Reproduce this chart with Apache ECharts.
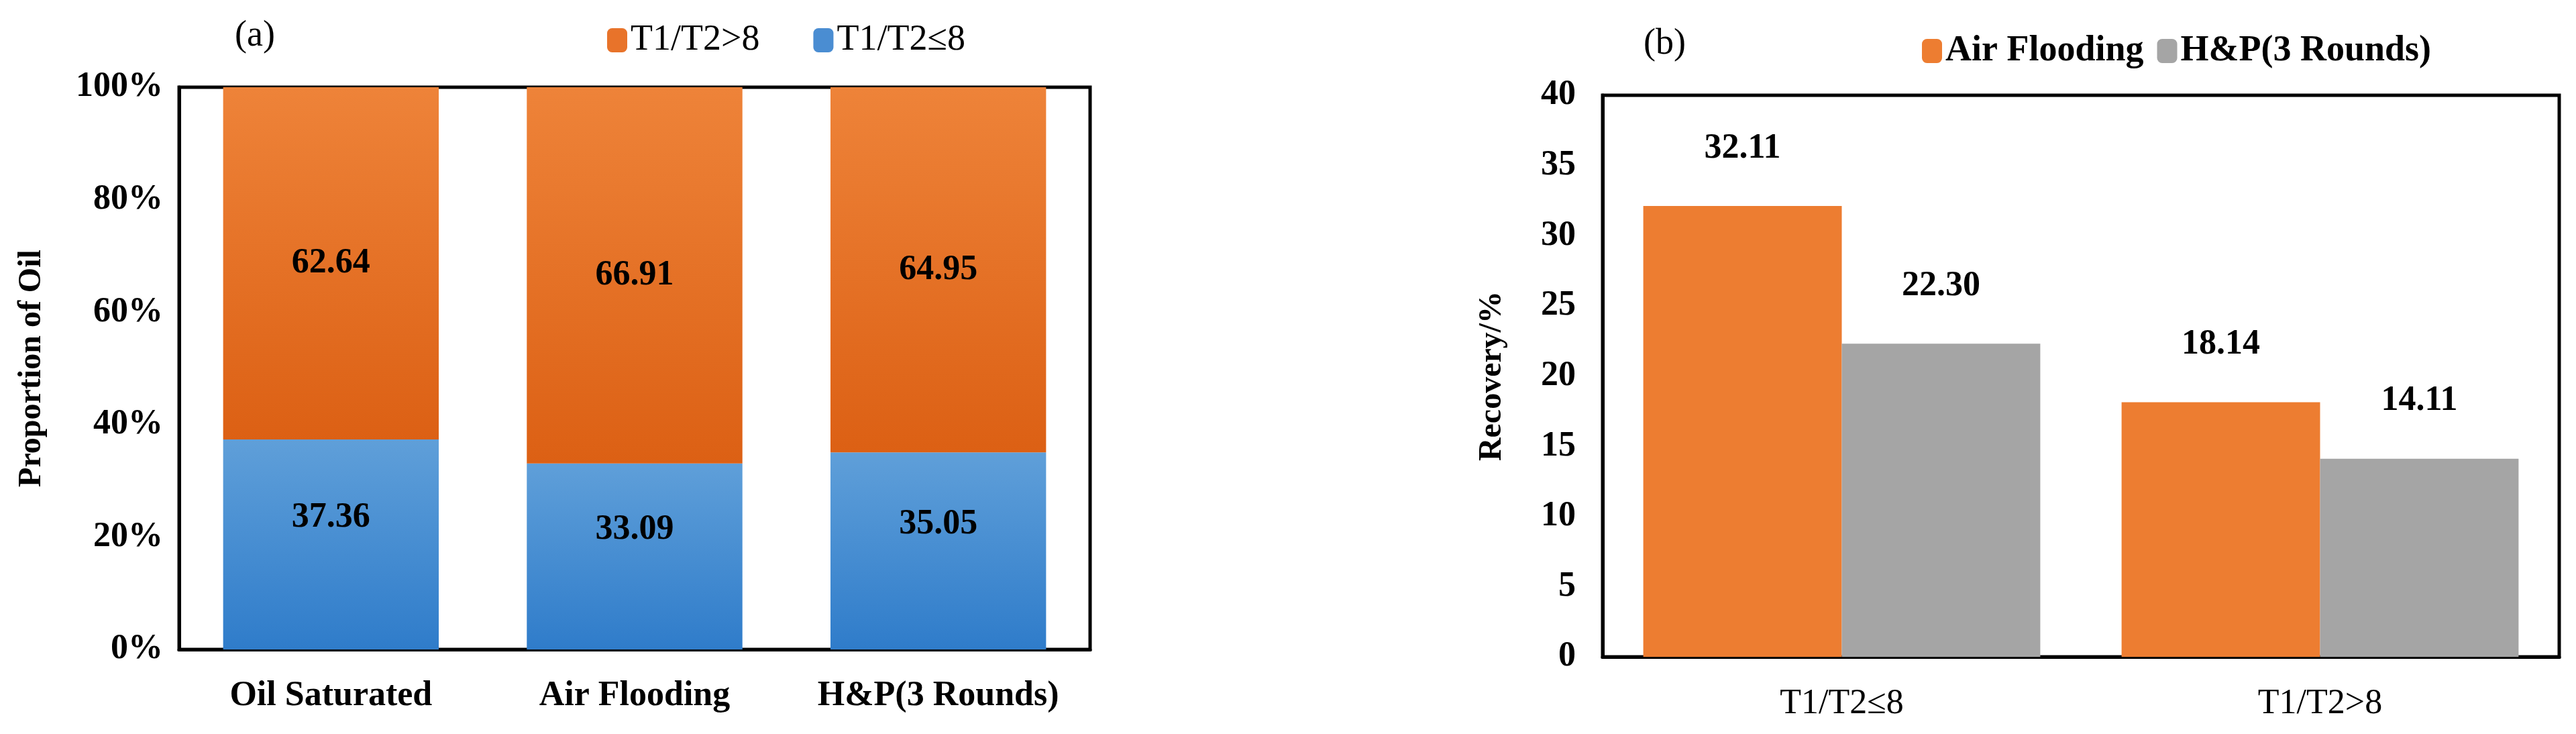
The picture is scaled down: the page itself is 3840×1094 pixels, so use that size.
<!DOCTYPE html>
<html>
<head>
<meta charset="utf-8">
<script src="https://cdn.jsdelivr.net/npm/echarts@6/dist/echarts.min.js"></script>
<style>
  html, body { margin: 0; padding: 0; background: #fff; }
  #chart { width: 3840px; height: 1094px; }
</style>
</head>
<body>
<div id="chart"></div>
<script>
// panel (a)
const stages = ['Oil Saturated', 'Air Flooding', 'H&P(3 Rounds)'];
const lowRatio = [37.36, 33.09, 35.05];   // T1/T2≤8
const highRatio = [62.64, 66.91, 64.95];  // T1/T2>8
// panel (b)
const ratioGroups = ['T1/T2≤8', 'T1/T2>8'];
const airFlooding = [32.11, 18.14];
const huffPuff = [22.30, 14.11];

const FONT = '"Liberation Serif", "Times New Roman", serif';
const black = '#000';

function grad(top, bottom) {
    return new echarts.graphic.LinearGradient(0, 0, 0, 1, [
        { offset: 0, color: top }, { offset: 1, color: bottom }
    ]);
}
const orangeGrad = grad('#ee8339', '#dc6014');
const blueGrad = grad('#5f9fd9', '#2f7cca');

const dataLabel = {
    show: true,
    fontFamily: FONT, fontSize: 52, fontWeight: 'bold', color: black,
    formatter: p => p.value.toFixed(2)
};

const chart = echarts.init(document.getElementById('chart'));
chart.setOption({
    animation: false,
    textStyle: { fontFamily: FONT },
    title: [
        { text: '(a)', left: 345, top: 22, textStyle: { fontFamily: FONT, fontSize: 54, fontWeight: 'normal', color: black } },
        { text: '(b)', left: 2445, top: 34, textStyle: { fontFamily: FONT, fontSize: 54, fontWeight: 'normal', color: black } }
    ],
    legend: [
        {
            data: [
                { name: 'T1/T2>8', itemStyle: { color: '#e8732a' } },
                { name: 'T1/T2≤8', itemStyle: { color: '#4a8dd2' } }
            ],
            left: 900, top: 28, itemWidth: 30, itemHeight: 36, itemGap: 80,
            textStyle: { fontFamily: FONT, fontSize: 54, color: black }
        },
        {
            data: [
                { name: 'Air Flooding', itemStyle: { color: '#ed7d31' } },
                { name: 'H&P(3 Rounds)', itemStyle: { color: '#a5a5a5' } }
            ],
            left: 2860, top: 44, itemWidth: 30, itemHeight: 36, itemGap: 20,
            textStyle: { fontFamily: FONT, fontSize: 54, fontWeight: 'bold', color: black }
        }
    ],
    grid: [
        { left: 267, top: 130, width: 1358, height: 838, show: true, borderColor: black, borderWidth: 5, backgroundColor: 'transparent' },
        { left: 2389, top: 142, width: 1426, height: 837, show: true, borderColor: black, borderWidth: 5, backgroundColor: 'transparent' }
    ],
    xAxis: [
        {
            gridIndex: 0, type: 'category', data: stages,
            axisLine: { lineStyle: { color: black, width: 5 } }, axisTick: { show: false },
            axisLabel: { fontFamily: FONT, fontSize: 52, fontWeight: 'bold', color: black, margin: 44, interval: 0 }
        },
        {
            gridIndex: 1, type: 'category', data: ratioGroups,
            axisLine: { lineStyle: { color: black, width: 5 } }, axisTick: { show: false },
            axisLabel: { fontFamily: FONT, fontSize: 52, color: black, margin: 44 }
        }
    ],
    yAxis: [
        {
            gridIndex: 0, type: 'value', min: 0, max: 100, interval: 20,
            name: 'Proportion of Oil', nameLocation: 'middle', nameGap: 195, nameRotate: 90,
            nameTextStyle: { fontFamily: FONT, fontSize: 48, fontWeight: 'bold', color: black },
            axisLine: { show: true, lineStyle: { color: black, width: 5 } }, axisTick: { show: false },
            splitLine: { show: false },
            axisLabel: { fontFamily: FONT, fontSize: 52, fontWeight: 'bold', color: black, margin: 24, formatter: '{value}%' }
        },
        {
            gridIndex: 1, type: 'value', min: 0, max: 40, interval: 5,
            name: 'Recovery/%', nameLocation: 'middle', nameGap: 140, nameRotate: 90,
            nameTextStyle: { fontFamily: FONT, fontSize: 48, fontWeight: 'bold', color: black },
            axisLine: { show: true, lineStyle: { color: black, width: 5 } }, axisTick: { show: false },
            splitLine: { show: false },
            axisLabel: { fontFamily: FONT, fontSize: 52, fontWeight: 'bold', color: black, margin: 40 }
        }
    ],
    series: [
        {
            name: 'T1/T2≤8', type: 'bar', stack: 'a', xAxisIndex: 0, yAxisIndex: 0,
            data: lowRatio, barCategoryGap: '29%',
            itemStyle: { color: blueGrad },
            label: { ...dataLabel, position: 'inside', offset: [0, -40] }
        },
        {
            name: 'T1/T2>8', type: 'bar', stack: 'a', xAxisIndex: 0, yAxisIndex: 0,
            data: highRatio, barCategoryGap: '29%',
            itemStyle: { color: orangeGrad },
            label: { ...dataLabel, position: 'inside' }
        },
        {
            name: 'Air Flooding', type: 'bar', xAxisIndex: 1, yAxisIndex: 1,
            data: airFlooding, barGap: '0%', barCategoryGap: '17%',
            itemStyle: { color: '#ed7d31' },
            label: { ...dataLabel, position: 'top', distance: 60 }
        },
        {
            name: 'H&P(3 Rounds)', type: 'bar', xAxisIndex: 1, yAxisIndex: 1,
            data: huffPuff, barGap: '0%', barCategoryGap: '17%',
            itemStyle: { color: '#a5a5a5' },
            label: { ...dataLabel, position: 'top', distance: 60 }
        }
    ]
});
</script>
</body>
</html>
